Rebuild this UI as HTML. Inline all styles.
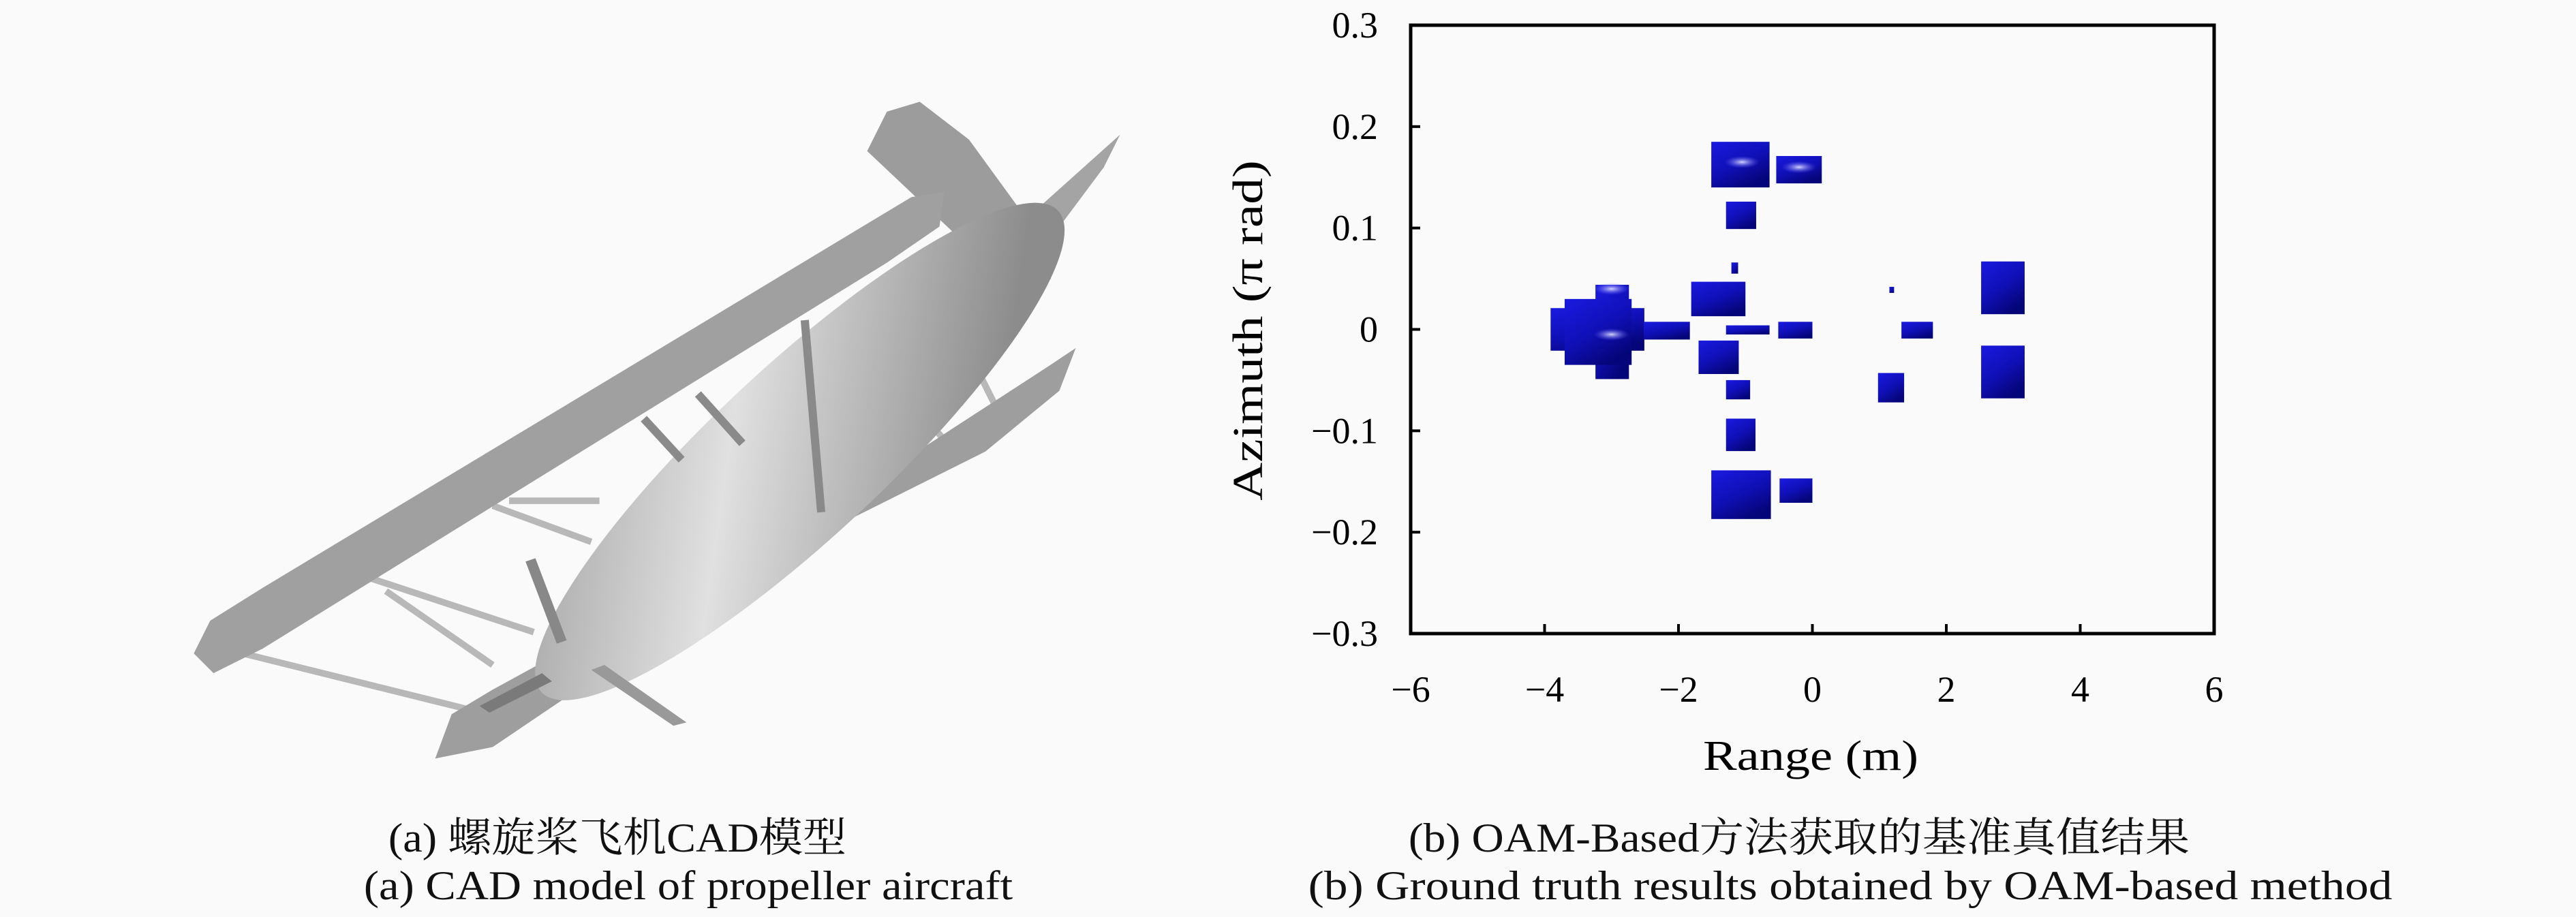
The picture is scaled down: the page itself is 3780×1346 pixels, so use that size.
<!DOCTYPE html>
<html><head><meta charset="utf-8">
<style>
html,body{margin:0;padding:0;background:#fafafa;}
body{width:3780px;height:1346px;position:relative;overflow:hidden;font-family:"Liberation Serif","Noto Serif CJK SC",serif;}
.cap{position:absolute;font-size:60px;white-space:nowrap;color:#111;}
</style></head><body>
<svg width="1780" height="1150" style="position:absolute;left:0;top:0">
<defs>
<linearGradient id="fus" x1="0" y1="0" x2="1" y2="0.3"><stop offset="0" stop-color="#a0a0a0"/><stop offset="0.45" stop-color="#e0e0e0"/><stop offset="1" stop-color="#8c8c8c"/></linearGradient>
</defs>
<g transform="scale(2.41)">
<g stroke="#b8b8b8" stroke-width="4" fill="none">
<line x1="148" y1="398" x2="285" y2="432"/>
<line x1="225" y1="352" x2="325" y2="385"/>
<line x1="235" y1="360" x2="300" y2="405"/>
<line x1="300" y1="308" x2="360" y2="330"/>
<line x1="310" y1="305" x2="365" y2="305"/>
<line x1="590" y1="215" x2="605" y2="245"/>
<line x1="555" y1="245" x2="575" y2="268"/>
</g>
<polygon fill="#9e9e9e" points="265,462 275,435 300,420 520,300 640,222 655,212 645,238 600,275 470,340 300,455"/>
<polygon fill="#9c9c9c" points="528,92 540,68 560,62 590,85 630,140 640,170 600,160"/>
<polygon fill="#a4a4a4" points="595,160 682,82 672,102 625,165"/>
<ellipse cx="487" cy="275" rx="215" ry="52" transform="rotate(-43 487 275)" fill="url(#fus)"/>
<polygon fill="#a0a0a0" points="118,398 128,378 160,358 555,120 575,117 572,138 540,160 160,395 130,410"/>
<g stroke="#8a8a8a" stroke-width="5">
<line x1="392" y1="255" x2="415" y2="280"/>
<line x1="425" y1="240" x2="452" y2="270"/>
<line x1="490" y1="195" x2="500" y2="312"/>
</g>
<polygon fill="#888" points="320,342 326,340 345,390 339,392"/>
<polygon fill="#999" points="360,408 368,405 418,440 410,442"/>
<polygon fill="#7a7a7a" points="292,430 330,410 336,415 298,434"/>
</g>
</svg>
<div class="cap" style="left:906px;top:1182px;transform:translateX(-50%) scaleX(1.07)">(a) 螺旋桨飞机CAD模型</div>
<div class="cap" style="left:1010px;top:1266px;transform:translateX(-50%) scaleX(1.11)">(a) CAD model of propeller aircraft</div>
<div class="cap" style="left:2640px;top:1182px;transform:translateX(-50%) scaleX(1.09)">(b) OAM-Based方法获取的基准真值结果</div>
<div class="cap" style="left:2715px;top:1266px;transform:translateX(-50%) scaleX(1.16)">(b) Ground truth results obtained by OAM-based method</div>

<svg id="chart" width="3780" height="1180" style="position:absolute;left:0;top:0">
<defs>
<linearGradient id="blob" x1="0" y1="0" x2="0.6" y2="1"><stop offset="0" stop-color="#1a1ae0"/><stop offset="0.55" stop-color="#1010b8"/><stop offset="1" stop-color="#05057a"/></linearGradient>
<radialGradient id="hl"><stop offset="0" stop-color="#e8e8ff" stop-opacity="0.9"/><stop offset="1" stop-color="#6060ff" stop-opacity="0"/></radialGradient>
</defs>
<g id="marks"></g>
<g id="axes"></g>
</svg>
<script>
const xTicks=[-6,-4,-2,0,2,4,6];
const yTicks=[0.3,0.2,0.1,0,-0.1,-0.2,-0.3];
const yTickLabels=["0.3","0.2","0.1","0","\u22120.1","\u22120.2","\u22120.3"];
const xTickLabels=["\u22126","\u22124","\u22122","0","2","4","6"];
const rangeLo=[-3.91,-3.24,-3.7,-2.52,-1.51,-0.54,-1.29,-1.21,-1.81,-1.29,-0.51,-1.7,-1.29,-1.29,-1.51,-0.49,1.33,0.98,2.52,2.52,1.15];
const rangeHi=[-2.51,-2.74,-2.7,-1.83,-0.64,0.14,-0.84,-1.11,-1.0,-0.64,0.0,-1.1,-0.93,-0.85,-0.62,0.0,1.8,1.37,3.17,3.17,1.22];
const azHi=[0.021,0.044,0.03,0.0075,0.185,0.171,0.126,0.066,0.047,0.004,0.0075,-0.011,-0.05,-0.088,-0.139,-0.147,0.0075,-0.043,0.067,-0.016,0.042];
const azLo=[-0.021,-0.049,-0.035,-0.01,0.14,0.144,0.099,0.055,0.013,-0.005,-0.009,-0.044,-0.069,-0.12,-0.187,-0.171,-0.009,-0.072,0.015,-0.068,0.036];
const hlR=[-3.0,-1.05,-0.2,-3.0];
const hlA=[-0.005,0.165,0.16,0.04];
const X0=2070,X1=3249,Y0=37,Y1=930;
const xs=v=>X0+(v+6)/12*(X1-X0);
const ys=v=>Y1-(v+0.3)/0.6*(Y1-Y0);
const NS="http://www.w3.org/2000/svg";
const marks=document.getElementById('marks'),axes=document.getElementById('axes');
function mk(tag,attrs,parent){const e=document.createElementNS(NS,tag);for(const k in attrs)e.setAttribute(k,attrs[k]);parent.appendChild(e);return e;}
rangeLo.forEach((r,i)=>{
 const e=mk('rect',{x:xs(r),y:ys(azHi[i]),width:xs(rangeHi[i])-xs(r),height:ys(azLo[i])-ys(azHi[i]),fill:'url(#blob)'},marks);
 
 
});
hlR.forEach((r,i)=>{
 const e=mk('ellipse',{cx:xs(r),cy:ys(hlA[i]),rx:26,ry:9,fill:'url(#hl)'},marks);
 
 
});
const fr=mk('rect',{x:X0,y:Y0,width:X1-X0,height:Y1-Y0,fill:'none',stroke:'#000','stroke-width':5},axes);


xTicks.forEach((v,i)=>{
 mk('line',{x1:xs(v),x2:xs(v),y1:Y1,y2:Y1-14,stroke:'#000','stroke-width':4},axes);
 const t=mk('text',{x:xs(v),y:1030,'text-anchor':'middle','font-size':54,'font-family':'Liberation Serif, serif'},axes);
 t.textContent=xTickLabels[i];
 
 
});
yTicks.forEach((v,i)=>{
 mk('line',{x1:X0,x2:X0+14,y1:ys(v),y2:ys(v),stroke:'#000','stroke-width':4},axes);
 const t=mk('text',{x:2022,y:ys(v)+18,'text-anchor':'end','font-size':54,'font-family':'Liberation Serif, serif'},axes);
 t.textContent=yTickLabels[i];
 
 
});
const xl=mk('text',{x:0,y:0,'text-anchor':'middle','font-size':62,'font-family':'Liberation Serif, serif',transform:'translate(2657,1130) scale(1.2,1)'},axes);
xl.textContent='Range (m)';


const yl=mk('text',{x:0,y:0,'text-anchor':'middle','font-size':62,'font-family':'Liberation Serif, serif',transform:'translate(1852,485) rotate(-90) scale(1.25,1)'},axes);
yl.textContent='Azimuth (\u03c0 rad)';


</script>
</body></html>
